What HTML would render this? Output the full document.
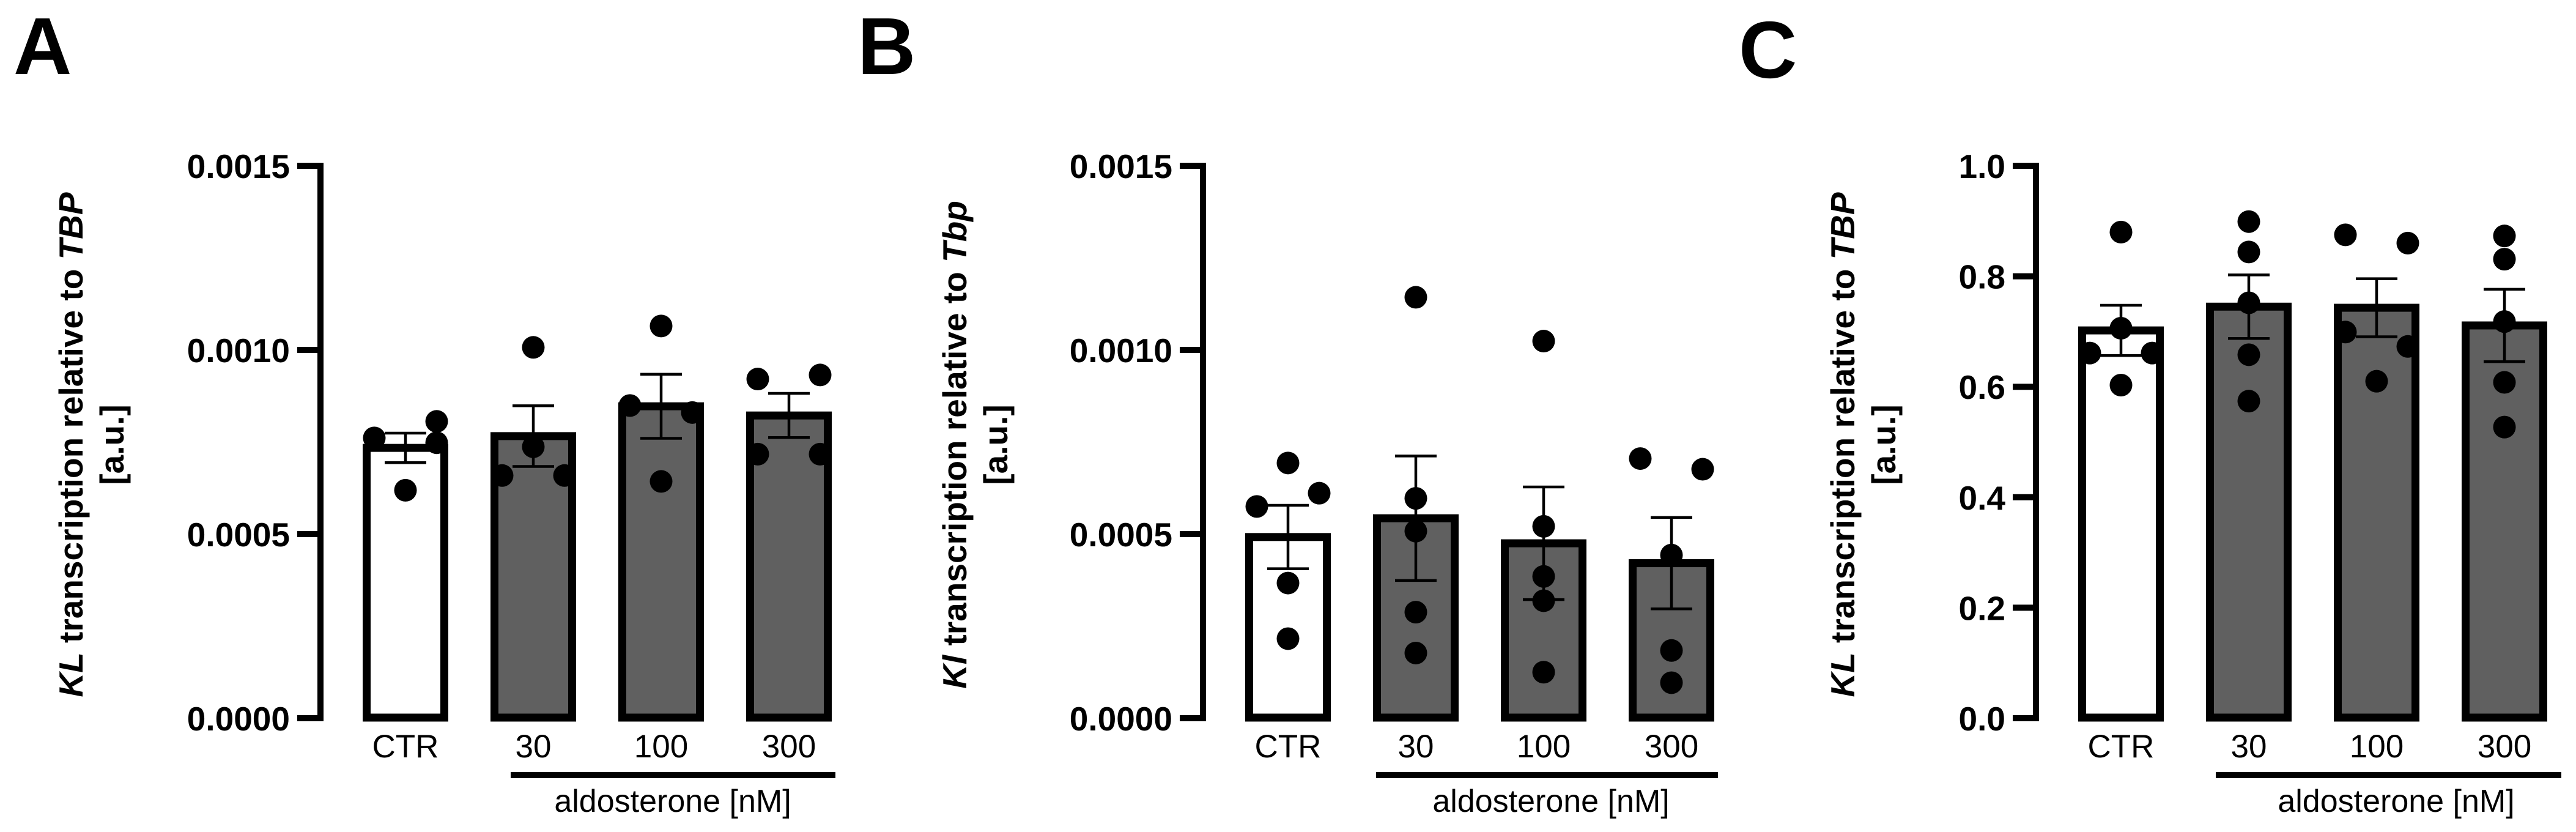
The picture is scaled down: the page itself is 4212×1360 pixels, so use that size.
<!DOCTYPE html>
<html><head><meta charset="utf-8"><style>
html,body{margin:0;padding:0;background:#fff;}
svg{display:block;font-family:"Liberation Sans",Arial,sans-serif;}
</style></head><body>
<svg id="fig" width="4212" height="1360" viewBox="0 0 4212 1360" xmlns="http://www.w3.org/2000/svg">
<rect width="4212" height="1360" fill="#fff"/>
<text x="22" y="121" font-size="132" font-weight="bold">A</text>
<text x="1402" y="121" font-size="132" font-weight="bold">B</text>
<text x="2843" y="127" font-size="132" font-weight="bold">C</text>
</svg>
<script>
const categories = ["CTR", "30", "100", "300"];
// Panel A
const aMeans = [0.000734, 0.000766, 0.000847, 0.000822];
const aSem = [0.00004, 0.0000825, 0.000087, 0.00006];
const aPoints = [[0.000761, 0.000806, 0.000748, 0.000619],[0.001007, 0.000737, 0.000659, 0.000659],[0.001065, 0.000849, 0.00083, 0.000643],[0.000921, 0.000932, 0.000717, 0.000717]];
const aSide = [[-1, 1, 1, 0],[0, 0, -1, 1],[0, -1, 1, 0],[-1, 1, -1, 1]];
const aTicks = ["0.0000", "0.0005", "0.0010", "0.0015"];
const aTickVals = [0, 0.0005, 0.001, 0.0015];
// Panel B
const bMeans = [0.000492, 0.000543, 0.000475, 0.000421];
const bSem = [0.000086, 0.000169, 0.000153, 0.000124];
const bPoints = [[0.000693, 0.000611, 0.000575, 0.000367, 0.000216],[0.001143, 0.000597, 0.000508, 0.000288, 0.000177],[0.001024, 0.000521, 0.000385, 0.000319, 0.000125],[0.000705, 0.000676, 0.000443, 0.000184, 0.0000964]];
const bSide = [[0, 1, -1, 0, 0],[0, 0, 0, 0, 0],[0, 0, 0, 0, 0],[-1, 1, 0, 0, 0]];
const bTicks = ["0.0000", "0.0005", "0.0010", "0.0015"];
const bTickVals = [0, 0.0005, 0.001, 0.0015];
// Panel C
const cMeans = [0.702, 0.745, 0.743, 0.711];
const cSem = [0.0455, 0.0575, 0.0525, 0.0655];
const cPoints = [[0.880, 0.706, 0.661, 0.661, 0.603],[0.899, 0.844, 0.752, 0.658, 0.574],[0.875, 0.860, 0.699, 0.673, 0.610],[0.873, 0.831, 0.718, 0.608, 0.527]];
const cSide = [[0, 0, -1, 1, 0],[0, 0, 0, 0, 0],[-1, 1, -1, 1, 0],[0, 0, 0, 0, 0]];
const cTicks = ["0.0", "0.2", "0.4", "0.6", "0.8", "1.0"];
const cTickVals = [0, 0.2, 0.4, 0.6, 0.8, 1.0];

const NS = "http://www.w3.org/2000/svg";
const svg = document.getElementById("fig");
function mk(tag, attrs, parent){ const e=document.createElementNS(NS,tag); for(const k in attrs) e.setAttribute(k,attrs[k]); (parent||svg).appendChild(e); return e; }

function panel(id, off, yMax, means, sem, points, side, ticks, tickVals, titleMain, titleItal1, titleItal2, titleX1, titleX2, lineX1, lineX2, textCX){
  const g = mk("g", {});
  
  
  const y0 = 1174, yTop = 271;
  const yS = v => y0 - (v / yMax) * (y0 - yTop);
  const axisX = 524 + off;
  const xC = i => 663 + off + i * 209;
  // y axis
  const ax = mk("line", {x1:axisX, y1:yTop-5, x2:axisX, y2:y0+5, stroke:"#000","stroke-width":10}, g);
  
  
  tickVals.forEach((tv, i) => {
    const y = yS(tv);
    const t = mk("line", {x1:axisX-38, y1:y, x2:axisX, y2:y, stroke:"#000","stroke-width":10}, g);
    
    
    const l = mk("text", {x:axisX-50, y:y+20, "font-size":55, "font-weight":"bold", "text-anchor":"end"}, g);
    l.textContent = ticks[i];
    
    
  });
  // bars
  means.forEach((m, i) => {
    const cx = xC(i), yv = yS(m);
    const r = mk("rect", {x:cx-63.5, y:yv, width:127, height:(y0-1)-yv, fill: i===0?"#fff":"#606060", stroke:"#000","stroke-width":13}, g);
    
    
    const hi = yS(m + sem[i]), lo = yS(m - sem[i]);
    const eb = mk("path", {d:`M${cx},${hi}V${lo}M${cx-34},${hi}H${cx+34}M${cx-34},${lo}H${cx+34}`, stroke:"#000","stroke-width":4.5, fill:"none"}, g);
    
    
    points[i].forEach((p, j) => {
      const d = mk("circle", {cx:cx + side[i][j]*51, cy:yS(p), r:18.5, fill:"#000"}, g);
      
      
    });
    const cl = mk("text", {x:cx, y:1238, "font-size":53, "text-anchor":"middle"}, g);
    cl.textContent = categories[i];
    
    
  });
  // group line + label
  const gl = mk("line", {x1:lineX1, y1:1267, x2:lineX2, y2:1267, stroke:"#000","stroke-width":10}, g);
  
  
  const gt = mk("text", {x:textCX, y:1327, "font-size":52, "text-anchor":"middle"}, g);
  gt.textContent = "aldosterone [nM]";
  
  
  // y title
  const cy = 727;
  const t1 = mk("text", {x:titleX1, y:cy, transform:`rotate(-90 ${titleX1} ${cy})`, "font-size":55, "font-weight":"bold", "text-anchor":"middle", "dominant-baseline":"central"}, g);
  
  
  const s1 = mk("tspan", {"font-style":"italic"}, t1); s1.textContent = titleItal1;
  const s2 = mk("tspan", {}, t1); s2.textContent = titleMain;
  const s3 = mk("tspan", {"font-style":"italic"}, t1); s3.textContent = titleItal2;
  const t2 = mk("text", {x:titleX2, y:cy, transform:`rotate(-90 ${titleX2} ${cy})`, "font-size":55, "font-weight":"bold", "text-anchor":"middle", "dominant-baseline":"central"}, g);
  t2.textContent = "[a.u.]";
  
  
}

panel("a", 0, 0.0015, aMeans, aSem, aPoints, aSide, aTicks, aTickVals, " transcription relative to ", "KL", "TBP", 116, 183, 835, 1366, 1100);
panel("b", 1443, 0.0015, bMeans, bSem, bPoints, bSide, bTicks, bTickVals, " transcription relative to ", "Kl", "Tbp", 1561, 1628, 2250, 2809, 2536);
panel("c", 2805, 1.0, cMeans, cSem, cPoints, cSide, cTicks, cTickVals, " transcription relative to ", "KL", "TBP", 3013, 3080, 3623, 4188, 3918);
</script>
</body></html>
